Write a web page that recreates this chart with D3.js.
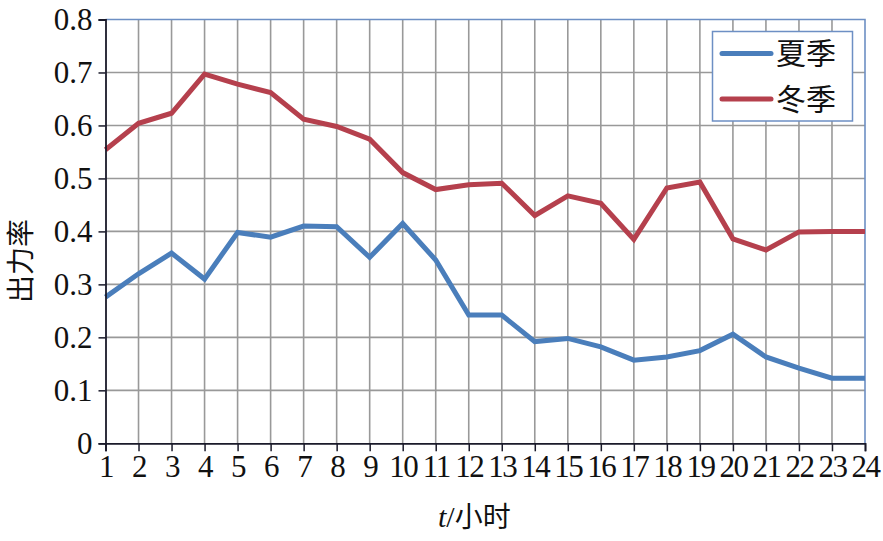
<!DOCTYPE html>
<html><head><meta charset="utf-8">
<script src="https://cdn.jsdelivr.net/npm/d3@7/dist/d3.min.js"></script>
<style>body{margin:0;background:#fff}svg{display:block}</style>
</head><body>
<svg id="c" width="883" height="541"></svg>
<script>
const hours = d3.range(1, 25);
const summer = [0.276,0.320,0.359,0.310,0.398,0.389,0.410,0.409,0.351,0.415,0.346,0.242,0.242,0.192,0.198,0.182,0.157,0.163,0.175,0.206,0.163,0.142,0.123,0.123];
const winter = [0.554,0.604,0.623,0.697,0.678,0.662,0.612,0.598,0.574,0.511,0.479,0.488,0.491,0.430,0.467,0.453,0.385,0.482,0.493,0.386,0.365,0.399,0.400,0.400];
const yTicks = [0,0.1,0.2,0.3,0.4,0.5,0.6,0.7,0.8];
const seriesNames = ["夏季","冬季"];
const seriesColors = ["#4a7ebb","#b5404d"];

const NUM = "Liberation Serif";
const CJK = "Noto Sans CJK SC";

const svg = d3.select("#c");
const L=105.5, R=865, T=19.5, B=443.3;
const x = d3.scaleLinear().domain([1,24]).range([L,R]);
const y = d3.scaleLinear().domain([0,0.8]).range([B,T]);

// gridlines
const g = svg.append("g");
g.selectAll("line.v").data(hours.slice(1,-1)).enter().append("line")
  .attr("x1",d=>x(d)).attr("x2",d=>x(d)).attr("y1",T).attr("y2",B)
  .attr("stroke","#999").attr("stroke-width",1.6);
g.selectAll("line.h").data(yTicks.slice(1,-1)).enter().append("line")
  .attr("y1",d=>y(d)).attr("y2",d=>y(d)).attr("x1",L).attr("x2",R)
  .attr("stroke","#999").attr("stroke-width",1.6);
svg.append("path").attr("d",`M${L},${T}H${R}V${B}`).attr("fill","none")
  .attr("stroke","#6d8fc4").attr("stroke-width",1.6);

// series
const line = d3.line().x((d,i)=>x(hours[i])).y(d=>y(d));
[summer, winter].forEach((s,k)=>{
  svg.append("path").attr("d",line(s)).attr("fill","none")
    .attr("stroke",seriesColors[k]).attr("stroke-width",5).attr("stroke-linejoin","miter");
});

// axes
const yAxis = d3.axisLeft(y).tickValues(yTicks).tickSize(7).tickPadding(6)
  .tickFormat(d=>d===0?"0":d3.format(".1f")(d));
const ya = svg.append("g").attr("transform",`translate(${L},0)`).call(yAxis)
  .attr("font-family",NUM).attr("font-size",31);
ya.select(".domain").attr("stroke","#1a1a2a").attr("stroke-width",1.8);
ya.selectAll(".tick line").attr("stroke","#1a1a2a").attr("stroke-width",1.5);
ya.selectAll(".tick text").style("font-family",NUM).style("font-size","31px").attr("fill","#111").attr("dy","0.33em");

const xAxis = d3.axisBottom(x).tickValues(hours).tickSize(8).tickPadding(4).tickFormat(d3.format("d"));
const xa = svg.append("g").attr("transform",`translate(0,${B})`).call(xAxis)
  .attr("font-family",NUM).attr("font-size",31);
xa.select(".domain").attr("stroke","#1a1a2a").attr("stroke-width",1.8);
xa.selectAll(".tick line").attr("stroke","#1a1a2a").attr("stroke-width",1.5);
xa.selectAll(".tick text").style("font-family",NUM).style("font-size","31px").attr("fill","#111")
  .attr("letter-spacing",-1.5);

// axis titles
const xt = svg.append("text").attr("x",438).attr("y",527).attr("fill","#111").style("font-size","30px");
xt.append("tspan").style("font-family",NUM).style("font-style","italic").text("t");
xt.append("tspan").style("font-family",NUM).text("/");
xt.append("tspan").style("font-family",CJK).style("font-size","28px").text("小时");

svg.append("text").attr("transform","translate(31,261) rotate(-90)").attr("text-anchor","middle")
  .style("font-family",CJK).style("font-size","28px").attr("fill","#111").text("出力率");

// legend
const lg = svg.append("g");
lg.append("rect").attr("x",712.5).attr("y",31.5).attr("width",140).attr("height",89.5)
  .attr("fill","#fff").attr("stroke","#6d8fc4").attr("stroke-width",1.5);
seriesNames.forEach((n,k)=>{
  const yy = 53.5 + k*45.5;
  lg.append("line").attr("x1",722).attr("x2",771).attr("y1",yy).attr("y2",yy)
    .attr("stroke",seriesColors[k]).attr("stroke-width",5).attr("stroke-linecap","round");
  lg.append("text").attr("x",776).attr("y",yy).attr("dy","0.36em")
    .style("font-family",CJK).style("font-size","30px").attr("fill","#111").text(n);
});
</script>
</body></html>
